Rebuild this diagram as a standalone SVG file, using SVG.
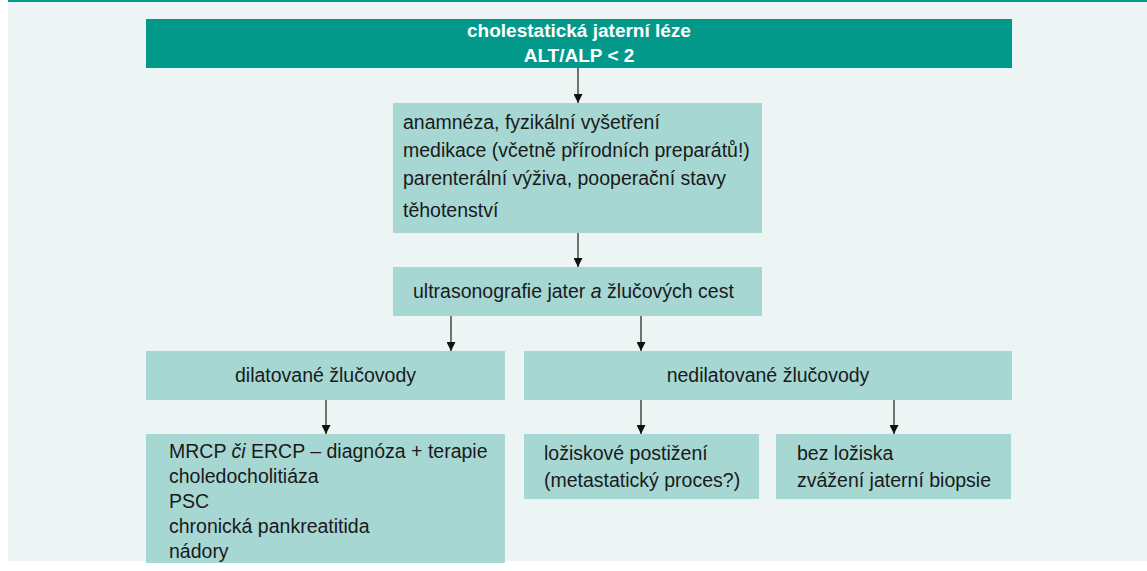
<svg xmlns="http://www.w3.org/2000/svg" width="1147" height="571" viewBox="0 0 1147 571">
<defs>
<style>
.bg{fill:#ECF5F3}
.box{fill:#A6D7D3}
.hdr{fill:#02998B}
text{font-family:"Liberation Sans",Arial,sans-serif;font-size:19.5px;fill:#1a1a1a}
.ht{font-weight:bold;font-size:19px;fill:#ffffff;text-anchor:middle}
.c{text-anchor:middle}
.ln{stroke:#1a1a1a;stroke-width:1.2;fill:none}
</style>
<marker id="ah" viewBox="0 0 10 10" refX="10" refY="5" markerWidth="9" markerHeight="9" markerUnits="userSpaceOnUse" orient="auto">
<path d="M0,0 L10,5 L0,10 Z" fill="#111"/>
</marker>
</defs>
<rect x="0" y="0" width="1147" height="571" fill="#ffffff"/>
<rect class="bg" x="8" y="0" width="1139" height="561"/>
<rect class="hdr" x="8" y="0" width="1139" height="2"/>

<g id="connectors">
<line class="ln" x1="578" y1="68" x2="578" y2="103" marker-end="url(#ah)"/>
<line class="ln" x1="578" y1="233" x2="578" y2="267" marker-end="url(#ah)"/>
<line class="ln" x1="451" y1="316" x2="451" y2="351" marker-end="url(#ah)"/>
<line class="ln" x1="641" y1="316" x2="641" y2="351" marker-end="url(#ah)"/>
<line class="ln" x1="326" y1="400" x2="326" y2="434" marker-end="url(#ah)"/>
<line class="ln" x1="641" y1="400" x2="641" y2="434" marker-end="url(#ah)"/>
<line class="ln" x1="894" y1="400" x2="894" y2="434" marker-end="url(#ah)"/>
</g>

<g id="n-header">
<rect class="hdr" x="146" y="19" width="866" height="49"/>
<text class="ht" x="579" y="37">cholestatická jaterní léze</text>
<text class="ht" x="579" y="62">ALT/ALP &lt; 2</text>
</g>

<g id="n-anamneza">
<rect class="box" x="393" y="103" width="369" height="130"/>
<text x="403" y="129">anamnéza, fyzikální vyšetření</text>
<text x="403" y="157">medikace (včetně přírodních preparátů!)</text>
<text x="403" y="185">parenterální výživa, pooperační stavy</text>
<text x="403" y="217">těhotenství</text>
</g>

<g id="n-usg">
<rect class="box" x="393" y="267" width="369" height="49"/>
<text x="413" y="298">ultrasonografie jater <tspan font-style="italic">a</tspan> žlučových cest</text>
</g>

<g id="n-dilat">
<rect class="box" x="146" y="351" width="359" height="49"/>
<text class="c" x="325.5" y="382">dilatované žlučovody</text>
</g>

<g id="n-nedilat">
<rect class="box" x="524" y="351" width="488" height="49"/>
<text class="c" x="768" y="382">nedilatované žlučovody</text>
</g>

<g id="n-mrcp">
<rect class="box" x="146" y="434" width="359" height="129"/>
<text x="169" y="458">MRCP <tspan font-style="italic">či</tspan> ERCP – diagnóza + terapie</text>
<text x="169" y="483">choledocholitiáza</text>
<text x="169" y="508">PSC</text>
<text x="169" y="533">chronická pankreatitida</text>
<text x="169" y="558">nádory</text>
</g>

<g id="n-lozisko">
<rect class="box" x="524" y="434" width="235" height="65"/>
<text x="544" y="460">ložiskové postižení</text>
<text x="544" y="487">(metastatický proces?)</text>
</g>

<g id="n-bez">
<rect class="box" x="776" y="434" width="235" height="65"/>
<text x="797" y="460">bez ložiska</text>
<text x="797" y="487">zvážení jaterní biopsie</text>
</g>
</svg>
